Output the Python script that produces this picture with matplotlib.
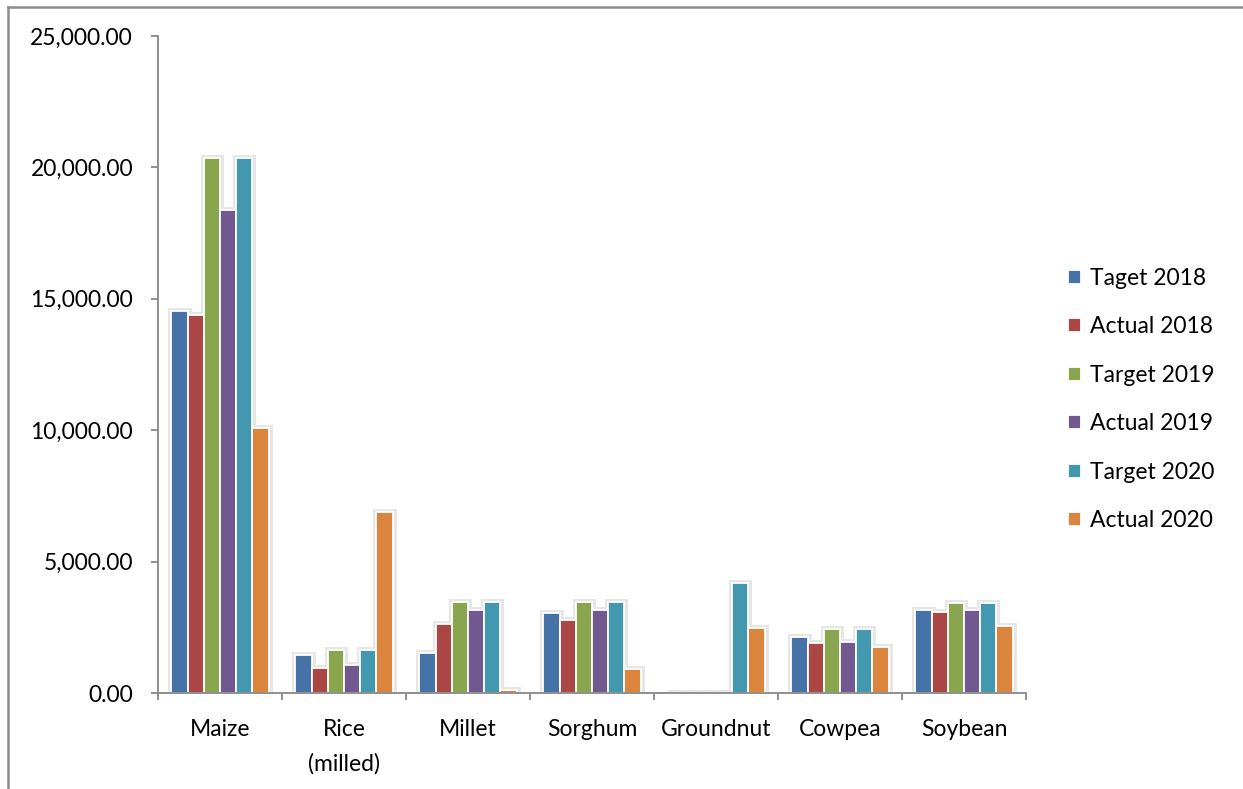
import matplotlib
matplotlib.use("Agg")
import matplotlib.pyplot as plt
from matplotlib.lines import Line2D
from matplotlib.ticker import FuncFormatter, FixedLocator
import numpy as np

crops = ["Maize", "Rice\n(milled)", "Millet", "Sorghum", "Groundnut", "Cowpea", "Soybean"]
series_names = ["Taget 2018", "Actual 2018", "Target 2019", "Actual 2019", "Target 2020", "Actual 2020"]

target_2018 = [14550, 1450, 1510, 3030, 0, 2140, 3150]
actual_2018 = [14390, 940, 2630, 2780, 0, 1890, 3070]
target_2019 = [20340, 1640, 3460, 3470, 0, 2420, 3440]
actual_2019 = [18380, 1070, 3160, 3150, 0, 1940, 3150]
target_2020 = [20340, 1640, 3460, 3470, 4170, 2420, 3440]
actual_2020 = [10070, 6900, 120, 930, 2460, 1760, 2550]

colors = ["#4572A7", "#AA4643", "#89A54E", "#71588F", "#4198AF", "#DB843D"]
series = [target_2018, actual_2018, target_2019, actual_2019, target_2020, actual_2020]

W, H = 1243, 789
fig = plt.figure(figsize=(W / 100, H / 100), dpi=100)
plt.rcParams["font.family"] = ["Lato", "DejaVu Sans"]
FS = 16.5

ax = fig.add_axes([158 / W, (H - 693) / H, (1026 - 158) / W, (693 - 36) / H])

x = np.arange(len(crops))
n = len(series)
slot = 0.131
offsets = (np.arange(n) - (n - 1) / 2) * slot

# soft shadow behind each bar
for vals, off in zip(series, offsets):
    ax.bar(x + off, vals, width=slot, color="#e6e6e6", edgecolor="#e6e6e6",
           linewidth=5, zorder=1)
for vals, off, c, name in zip(series, offsets, colors, series_names):
    ax.bar(x + off, vals, width=slot, color=c, edgecolor="white",
           linewidth=1.3, zorder=2, label=name)

ax.set_xlim(-0.5, len(crops) - 0.5)
ax.set_ylim(0, 25000)
ax.set_yticks(np.arange(0, 25001, 5000))
ax.yaxis.set_major_formatter(FuncFormatter(lambda v, p: f"{v:,.2f}"))

ax.set_xticks(x)
ax.set_xticklabels(crops, linespacing=1.7)
ax.xaxis.set_minor_locator(FixedLocator(np.arange(-0.5, len(crops), 1.0)))

axis_col = "#868686"
for s in ["top", "right"]:
    ax.spines[s].set_visible(False)
for s in ["left", "bottom"]:
    ax.spines[s].set_color(axis_col)
    ax.spines[s].set_linewidth(1.3)

ax.tick_params(axis="y", direction="out", length=5, width=1.3, color=axis_col,
               labelsize=FS, pad=13, labelcolor="black")
ax.tick_params(axis="x", which="major", length=0, labelsize=FS, pad=19, labelcolor="black")
ax.tick_params(axis="x", which="minor", direction="out", length=5, width=1.3, color=axis_col)

leg = fig.legend(loc="center left", bbox_to_anchor=(1068 / W, 1 - 399.5 / H),
                 frameon=False, fontsize=FS, handlelength=0.55, handleheight=0.55,
                 handletextpad=0.4, labelspacing=1.2, borderaxespad=0, borderpad=0)

# outer frame lines along the top and left edges
fig.add_artist(Line2D([8 / W, 1], [1 - 6.5 / H, 1 - 6.5 / H], transform=fig.transFigure,
                      color="#8c8c8c", linewidth=1.8))
fig.add_artist(Line2D([8 / W, 8 / W], [0, 1 - 6.5 / H], transform=fig.transFigure,
                      color="#8c8c8c", linewidth=1.8))

fig.savefig("out.png", dpi=100, facecolor="white")
